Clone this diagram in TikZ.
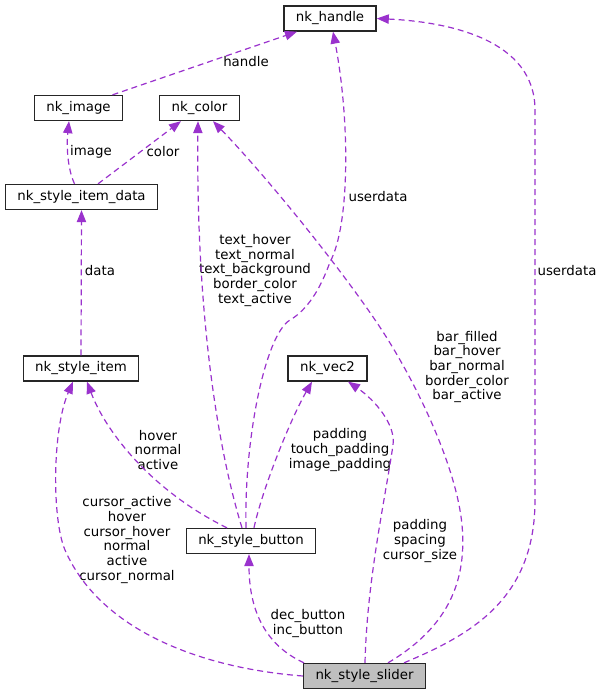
\documentclass[tikz,border=0pt]{standalone}
\usepackage{fontspec}
\setmainfont{DejaVu Sans}
\usetikzlibrary{arrows.meta,calc}
\definecolor{edgepurple}{RGB}{154,50,205}
\definecolor{slidergray}{RGB}{191,191,191}

\begin{document}
\begin{tikzpicture}[
		x=0.75pt, y=-0.75pt,
		every node/.style={font=\fontsize{10}{11}\selectfont},
		classbox/.style={rectangle, draw=black!85, line width=1pt, minimum height=18.75pt, inner xsep=9pt, inner ysep=0pt},
		member/.style={align=center, inner sep=0pt},
		dep/.style={-{Triangle[length=9pt, width=7pt]}, draw=edgepurple, line width=0.9pt, dash pattern=on 4.5pt off 3pt}
	]
  \useasboundingbox (0, 0) rectangle (597, 695);

  % classes
  \node (nk_handle) [classbox] at (330, 18.5) {nk\_handle};
  \node (nk_image) [classbox] at (78.5, 108) {nk\_image};
  \node (nk_color) [classbox] at (199.5, 108) {nk\_color};
  \node (nk_item_data) [classbox] at (81.5, 197) {nk\_style\_item\_data};
  \node (nk_item) [classbox] at (81, 368.5) {nk\_style\_item};
  \node (nk_vec2) [classbox] at (327.5, 368.5) {nk\_vec2};
  \node (nk_button) [classbox] at (251, 541) {nk\_style\_button};
  \node (nk_slider) [classbox, fill=slidergray] at (364.5, 676) {nk\_style\_slider};

  % member names
  \node (m_handle) [member] at (246, 62) {handle};
  \node (m_image) [member] at (91, 152) {image};
  \node (m_color) [member] at (163, 152) {color};
  \node (m_data) [member] at (100, 271) {data};
  \node (m_userdata_b) [member] at (378, 197) {userdata};
  \node (m_userdata_s) [member] at (567, 271) {userdata};
  \node (m_text) [member] at (255, 270.5) {text\_hover\\text\_normal\\text\_background\\border\_color\\text\_active};
  \node (m_bar) [member] at (467, 367) {bar\_filled\\bar\_hover\\bar\_normal\\border\_color\\bar\_active};
  \node (m_states_b) [member] at (158, 450) {hover\\normal\\active};
  \node (m_pad_b) [member] at (340, 450) {padding\\touch\_padding\\image\_padding};
  \node (m_states_s) [member] at (127, 540) {cursor\_active\\hover\\cursor\_hover\\normal\\active\\cursor\_normal};
  \node (m_pad_s) [member] at (420, 541) {padding\\spacing\\cursor\_size};
  \node (m_buttons) [member] at (308, 623.5) {dec\_button\\inc\_button};

  % usage edges
  \draw [dep] ($(nk_image.north)+(34,0)$) -- ($(nk_handle.south)+(-33,0)$);
  \draw [dep] ($(nk_item_data.north)+(-7,0)$) .. controls (66, 165) and (67, 140) .. ($(nk_image.south)+(-9.5,0)$);
  \draw [dep] ($(nk_item_data.north)+(16.5,0)$) -- ($(nk_color.south)+(-18.5,0)$);
  \draw [dep] (nk_item.north) -- (nk_item_data.south);
  \draw [dep] ($(nk_button.north)+(-24,0)$) .. controls (150, 490) and (105, 430) .. ($(nk_item.south)+(6,0)$);
  \draw [dep] ($(nk_button.north)+(-9,0)$) .. controls (215, 440) and (196, 300) .. ($(nk_color.south)+(-1.5,0)$);
  \draw [dep] ($(nk_button.north)+(-5,0)$) .. controls (244, 440) and (265, 335) .. (290, 320)
    .. controls (307, 310) and (320, 290) .. (330, 262)
    .. controls (350, 225) and (350, 120) .. ($(nk_handle.south)+(3,0)$);
  \draw [dep] ($(nk_button.north)+(3,0)$) .. controls (262, 490) and (290, 420) .. ($(nk_vec2.south)+(-15.5,0)$);
  \draw [dep] (nk_slider.west) .. controls (200, 668) and (100, 630) .. (65, 550)
    .. controls (52, 520) and (52, 430) .. ($(nk_item.south)+(-8,0)$);
  \draw [dep] ($(nk_slider.north)+(-60.5,0)$) .. controls (265, 645) and (249, 610) .. ($(nk_button.south)+(-2,0)$);
  \draw [dep] ($(nk_slider.north)+(0.5,0)$) .. controls (367, 580) and (385, 500) .. (393, 445)
    .. controls (396, 425) and (375, 400) .. ($(nk_vec2.south)+(20.5,0)$);
  \draw [dep] ($(nk_slider.north)+(23.5,0)$) .. controls (440, 632) and (468, 590) .. (462, 525)
    .. controls (457, 470) and (420, 390) .. (385, 335)
    .. controls (350, 280) and (270, 180) .. ($(nk_color.south)+(13.5,0)$);
  \draw [dep] ($(nk_slider.north)+(39.5,0)$) .. controls (470, 635) and (535, 600) .. (535, 500)
    -- (535, 110) .. controls (535, 40) and (450, 22) .. (nk_handle.east);
\end{tikzpicture}
\end{document}
